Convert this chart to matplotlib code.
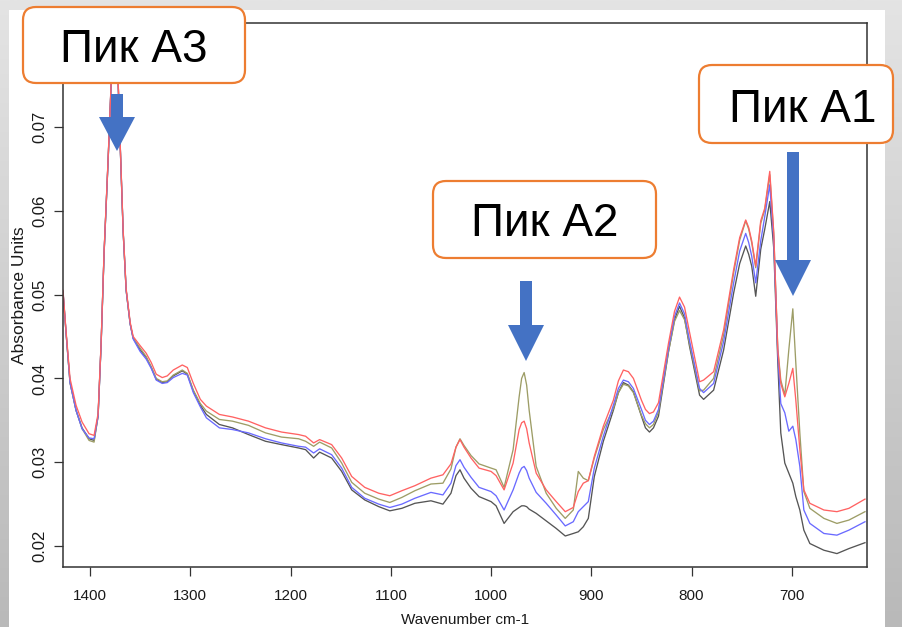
import numpy as np
import matplotlib
matplotlib.use("Agg")
import matplotlib.pyplot as plt
from matplotlib.patches import Rectangle, FancyBboxPatch, Polygon
from matplotlib.transforms import Affine2D

plt.rcParams['font.family'] = ['Liberation Sans', 'DejaVu Sans']

# ---- spectra (absorbance vs wavenumber) ----
wavenumber = [
    1427, 1424, 1420, 1414, 1408, 1401, 1396, 1392, 1389, 1386,
    1382, 1379, 1376, 1373, 1370, 1367, 1364, 1360, 1357, 1350,
    1344, 1339, 1334, 1328, 1323, 1317, 1308, 1303, 1297, 1290,
    1284, 1271, 1258, 1242, 1225, 1209, 1192, 1185, 1177, 1171,
    1159, 1149, 1139, 1126, 1112, 1101, 1089, 1076, 1060, 1048,
    1040, 1035, 1031, 1027, 1020, 1012, 1000, 995, 987, 978,
    972, 969.5, 967, 964.5, 962, 955, 945, 935, 926, 918,
    913, 908, 903, 897, 888, 878, 873, 868, 863, 858,
    850, 846, 842, 838, 833, 823, 817, 812, 807, 802,
    792, 788, 778, 768, 758, 752, 746, 743, 740, 736,
    731, 727, 722, 718, 714, 711, 707, 703, 699, 696,
    692, 688, 682, 668, 655, 643, 627]

spec_red = [
    .0505, .0457, .0400, .0368, .0348, .0334, .0332, .0358, .0442, .0552,
    .0662, .0752, .0860, .0792, .0682, .0577, .0507, .0467, .0450, .0439,
    .0430, .0419, .0405, .0401, .0403, .0410, .0416, .0413, .0394, .0375,
    .0367, .0357, .0354, .0349, .0341, .0336, .0333, .0331, .0323, .0327,
    .0321, .0305, .0283, .0270, .0263, .0260, .0266, .0272, .0281, .0285,
    .0298, .0318, .0327, .0318, .0305, .0293, .0289, .0284, .0267, .0299,
    .0339, .0347, .0349, .0340, .0323, .0287, .0267, .0253, .0241, .0246,
    .0265, .0275, .0278, .0307, .0343, .0374, .0397, .0410, .0408, .0400,
    .0374, .0363, .0358, .0360, .0371, .0442, .0480, .0497, .0485, .0455,
    .0396, .0398, .0408, .0458, .0530, .0568, .0589, .0580, .0564, .0534,
    .0588, .0603, .0647, .0574, .0434, .0394, .0378, .0394, .0412, .0374,
    .0315, .0267, .0251, .0243, .0241, .0245, .0256]

spec_olive = [
    .0503, .0455, .0395, .0362, .0340, .0326, .0324, .0355, .0440, .0550,
    .0660, .0750, .0860, .0790, .0680, .0575, .0505, .0465, .0448, .0436,
    .0426, .0414, .0400, .0396, .0397, .0404, .0410, .0406, .0386, .0370,
    .0361, .0351, .0349, .0344, .0335, .0330, .0328, .0325, .0319, .0324,
    .0317, .0299, .0276, .0263, .0256, .0252, .0258, .0266, .0274, .0275,
    .0292, .0318, .0328, .0320, .0308, .0298, .0293, .0291, .0270, .0315,
    .0378, .0400, .0407, .0392, .0362, .0295, .0263, .0245, .0233, .0243,
    .0289, .0281, .0278, .0305, .0339, .0364, .0383, .0393, .0391, .0383,
    .0356, .0346, .0341, .0345, .0360, .0432, .0468, .0481, .0470, .0441,
    .0385, .0386, .0400, .0452, .0526, .0565, .0588, .0578, .0562, .0532,
    .0585, .0601, .0643, .0572, .0436, .0398, .0380, .0434, .0483, .0418,
    .0335, .0265, .0245, .0233, .0227, .0231, .0241]

spec_blue = [
    .0504, .0455, .0395, .0362, .0340, .0329, .0328, .0355, .0440, .0550,
    .0660, .0750, .0860, .0790, .0680, .0575, .0505, .0465, .0447, .0432,
    .0423, .0412, .0398, .0394, .0395, .0401, .0406, .0404, .0383, .0366,
    .0353, .0341, .0339, .0335, .0328, .0323, .0319, .0318, .0311, .0316,
    .0309, .0293, .0270, .0257, .0250, .0246, .0250, .0257, .0264, .0261,
    .0275, .0296, .0303, .0294, .0282, .0270, .0265, .0260, .0243, .0267,
    .0287, .0293, .0295, .0290, .0281, .0264, .0251, .0237, .0224, .0229,
    .0241, .0247, .0253, .0293, .0331, .0368, .0388, .0398, .0396, .0388,
    .0363, .0350, .0345, .0349, .0363, .0436, .0474, .0490, .0477, .0445,
    .0388, .0383, .0394, .0444, .0514, .0552, .0573, .0562, .0546, .0514,
    .0564, .0593, .0631, .0565, .0430, .0370, .0359, .0337, .0343, .0327,
    .0295, .0243, .0227, .0215, .0213, .0219, .0229]

spec_gray = [
    .0503, .0455, .0395, .0362, .0341, .0328, .0326, .0355, .0440, .0550,
    .0660, .0750, .0860, .0790, .0680, .0575, .0505, .0465, .0448, .0434,
    .0425, .0413, .0399, .0395, .0396, .0403, .0409, .0405, .0385, .0368,
    .0357, .0345, .0341, .0333, .0325, .0321, .0317, .0315, .0305, .0312,
    .0305, .0289, .0267, .0255, .0247, .0242, .0245, .0251, .0254, .0250,
    .0263, .0284, .0291, .0281, .0269, .0259, .0253, .0248, .0227, .0241,
    .0246, .0248, .0248, .0247, .0244, .0239, .0230, .0221, .0212, .0215,
    .0217, .0223, .0233, .0283, .0325, .0362, .0383, .0395, .0392, .0384,
    .0355, .0341, .0336, .0341, .0355, .0432, .0470, .0486, .0472, .0438,
    .0380, .0375, .0386, .0434, .0502, .0537, .0558, .0548, .0534, .0498,
    .0554, .0578, .0611, .0555, .0420, .0335, .0299, .0287, .0275, .0259,
    .0243, .0219, .0203, .0195, .0191, .0197, .0204]

x_ticks = [1400, 1300, 1200, 1100, 1000, 900, 800, 700]
y_ticks = [0.02, 0.03, 0.04, 0.05, 0.06, 0.07]
x_range = (1427, 625)
y_range = (0.0175, 0.0824)

peak_labels = ["Пик А3", "Пик А2", "Пик А1"]

series = [
    (spec_gray, '#555555'),
    (spec_olive, '#9d9d66'),
    (spec_blue, '#6a6aff'),
    (spec_red, '#ff6262'),
]

# ---- figure / slide layout ----
W, H = 903, 627
fig = plt.figure(figsize=(W / 100, H / 100), dpi=100)
slide = Affine2D().scale(1 / W, -1 / H).translate(0, 1) + fig.transFigure

# grey slide background with soft vertical gradient
bg = fig.add_axes([0, 0, 1, 1], zorder=-2)
grad = np.linspace(0, 1, 256).reshape(-1, 1)
bg.imshow(grad, aspect='auto', cmap=matplotlib.colors.LinearSegmentedColormap.from_list(
    'g', ['#e4e4e4', '#b9b9b9']), extent=[0, 1, 0, 1])
bg.set_axis_off()

# white picture area
fig.add_artist(Rectangle((9, 10), 876, 620, transform=slide, facecolor='white',
                         edgecolor='none', zorder=-1))

ax = fig.add_axes([63 / W, 1 - 567 / H, (867 - 63) / W, (567 - 23) / H], zorder=0)
ax.set_facecolor('white')
for ys, c in series:
    ax.plot(wavenumber, ys, color=c, lw=0.95, solid_joinstyle='round')

ax.set_xlim(*x_range)
ax.set_ylim(*y_range)
ax.set_xticks(x_ticks)
ax.set_xticklabels([str(v) for v in x_ticks])
ax.set_yticks(y_ticks)
ax.set_yticklabels([f"{v:.2f}" for v in y_ticks], rotation=90, va='center')
ax.tick_params(axis='both', direction='out', length=6.5, width=0.9, color='#333333',
               labelcolor='#1a1a1a')
ax.tick_params(axis='x', pad=9, labelsize=11)
ax.tick_params(axis='y', pad=5, labelsize=12)
for s in ax.spines.values():
    s.set_color('#333333')
    s.set_linewidth(1.1)

ax.set_xlabel("Wavenumber cm-1", fontsize=11, color='#1a1a1a')
ax.xaxis.set_label_coords(0.5, (567 - 620) / 544)
ax.xaxis.label.set_va('center')
ax.set_ylabel("Absorbance Units", fontsize=12.5, color='#1a1a1a')
ax.yaxis.set_label_coords((20 - 63) / 804, 0.5)
ax.yaxis.label.set_va('center')

# ---- peak call-outs: rounded label boxes and block arrows ----
orange = '#ED7D31'
arrow_blue = '#4472C4'
boxes = [  # (x0, y0, x1, y1, text_cx, baseline)
    (23, 7, 245, 83, 134, 62),
    (433, 181, 656, 258, 545, 236),
    (699, 65, 893, 143, 803, 122.5),
]
for (x0, y0, x1, y1, tx, tb), label in zip(boxes, peak_labels):
    fig.add_artist(FancyBboxPatch((x0, y0), x1 - x0, y1 - y0,
                                  boxstyle="round,pad=0,rounding_size=13",
                                  transform=slide, facecolor='white',
                                  edgecolor=orange, lw=1.6, zorder=4))
    fig.text(tx, tb, label, transform=slide, ha='center', va='baseline',
             fontsize=33, color='black', zorder=5)

arrows = [  # (center x, shaft top, head base, tip)
    (117, 94, 117, 151),
    (526, 281, 325, 361),
    (793, 152, 260, 296),
]
shaft_half, head_half = 6, 18
for cx, top, base, tip in arrows:
    pts = [(cx - shaft_half, top), (cx + shaft_half, top), (cx + shaft_half, base),
           (cx + head_half, base), (cx, tip), (cx - head_half, base),
           (cx - shaft_half, base)]
    fig.add_artist(Polygon(pts, closed=True, transform=slide, facecolor=arrow_blue,
                           edgecolor='none', zorder=3))

fig.savefig("out.png", dpi=100)
